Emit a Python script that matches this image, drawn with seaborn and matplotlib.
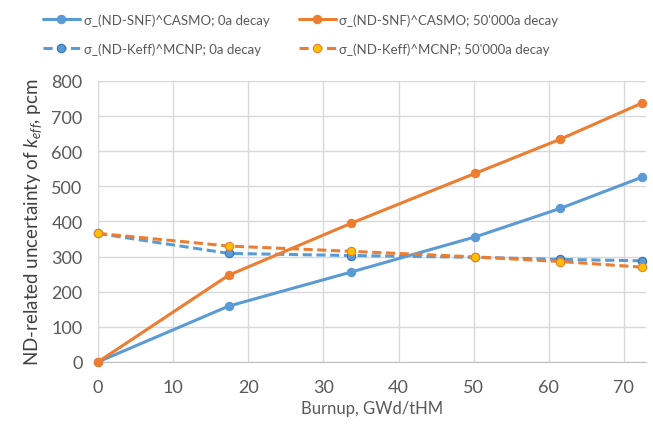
import numpy as np
import pandas as pd
import matplotlib
matplotlib.use("Agg")
import matplotlib.pyplot as plt
import seaborn as sns

# Data
burnup = [0, 17.4, 33.7, 50.2, 61.5, 72.4]
casmo_0a = [0, 159, 256, 356, 437, 526]
casmo_50ka = [0, 247, 395, 537, 634, 737]
mcnp_0a = [366, 309, 303, 298, 292, 288]
mcnp_50ka = [366, 330, 315, 299, 286, 270]

labels = [
    "σ_(ND-SNF)^CASMO; 0a decay",
    "σ_(ND-SNF)^CASMO; 50'000a decay",
    "σ_(ND-Keff)^MCNP; 0a decay",
    "σ_(ND-Keff)^MCNP; 50'000a decay",
]

BLUE = "#5B9BD5"
ORANGE = "#ED7D31"
GOLD = "#FFC000"
DARKBLUE = "#2E75B6"
GREY = "#595959"

sns.set_style("whitegrid")
plt.rcParams["font.family"] = ["Lato", "DejaVu Sans"]
plt.rcParams["mathtext.fontset"] = "custom"
plt.rcParams["mathtext.it"] = "Lato:italic"
plt.rcParams["mathtext.rm"] = "Lato"

fig = plt.figure(figsize=(6.53, 4.27), dpi=100)
ax = fig.add_axes([0.150, 0.150, 0.840, 0.658])

# legend fills column-wise, so order: col1 = CASMO/MCNP 0a, col2 = 50'000a
series = [
    (casmo_0a, labels[0], BLUE, "-", BLUE, BLUE),
    (mcnp_0a, labels[2], BLUE, (0, (3, 1.5)), BLUE, DARKBLUE),
    (casmo_50ka, labels[1], ORANGE, "-", ORANGE, ORANGE),
    (mcnp_50ka, labels[3], ORANGE, (0, (3, 1.5)), GOLD, ORANGE),
]

for vals, lab, col, ls, mfc, mec in series:
    df = pd.DataFrame({"burnup": burnup, "val": vals})
    sns.lineplot(data=df, x="burnup", y="val", ax=ax, color=col, linewidth=2.2,
                 linestyle=ls, marker="o", markersize=6, markerfacecolor=mfc,
                 markeredgecolor=mec, markeredgewidth=0.8, label=lab, clip_on=False,
                 zorder=3)

ax.set_xlim(0, 73)
ax.set_ylim(0, 800)
ax.set_xticks(np.arange(0, 80, 10))
ax.set_yticks(np.arange(0, 900, 100))
ax.grid(True, color="#D9D9D9", linewidth=1)
for s in ["top", "right"]:
    ax.spines[s].set_visible(False)
ax.spines["left"].set_color("#D9D9D9")
ax.spines["bottom"].set_color("#BFBFBF")
ax.tick_params(axis="both", colors=GREY, labelsize=13, length=0)
ax.tick_params(axis="y", pad=11)
ax.tick_params(axis="x", pad=12)

ax.set_xlabel("Burnup, GWd/tHM", fontsize=12, color=GREY, labelpad=4)
ax.set_ylabel(r"ND-related uncertainty of $k_{eff}$, pcm", fontsize=13.5,
              color="#404040", labelpad=5)

leg = ax.legend(loc="lower left", bbox_to_anchor=(-0.122, 1.05), ncol=2,
                frameon=False, fontsize=9.5, handlelength=2.8,
                columnspacing=2.2, handletextpad=0.3, labelspacing=1.25)
for t in leg.get_texts():
    t.set_color(GREY)

fig.savefig("out.png", dpi=100)
